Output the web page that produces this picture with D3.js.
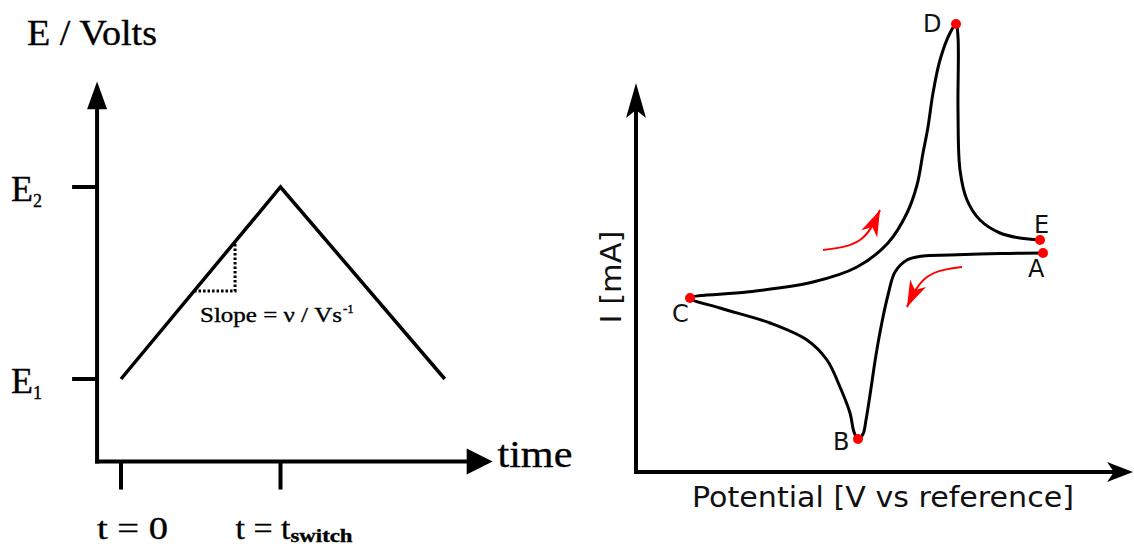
<!DOCTYPE html>
<html lang="en">
<head>
<meta charset="UTF-8">
<title>Cyclic voltammetry</title>
<script src="https://d3js.org/d3.v7.min.js"></script>
<style>
  body { margin: 0; background: #fff; }
  .serif { font-family: "Liberation Serif", "Times New Roman", serif; fill: #000; stroke: #000; stroke-width: 0.35; }
  .sans { font-family: "DejaVu Sans", Verdana, sans-serif; fill: #111; }
</style>
</head>
<body>
<script>
// left panel: triangular potential waveform (E1 = 0, E2 = 1, t_switch = 1)
const waveTime = [0, 1, 2.03];
const waveE = [0, 1, 0];
const slopeTime = [0.458, 0.715];
const eTicks = [0, 1];
const eTickSubs = ["1", "2"];
const tTicks = [0, 1];

// right panel: voltammogram, arbitrary units, traced A -> B -> C -> D -> E
const cvPotential = [81.4, 72.8, 62.8, 57.4, 54.2, 51.8, 50.4, 49.2, 48, 46.8, 46, 45.4, 44.4,
  43.6, 42.8, 40.8, 38.2, 34.2, 26.8, 16.8, 10.8,
  22.2, 35.4, 44.2, 50.4, 54.2, 56.2, 57.4, 58.4, 59.4, 60.8, 62.8, 64,
  64.4, 64.4, 64.8, 66.2, 68.8, 72.8, 76.8, 80.8];
const cvCurrent = [43.8, 43.7, 43.4, 43.2, 42.4, 40, 35.4, 30, 23.4, 15.4, 10.4, 7.6, 6.6,
  8, 11.8, 17, 22.4, 26.4, 29.8, 32.8, 34.8,
  36, 38, 41, 45.8, 51.8, 57.4, 63.8, 69, 75.8, 82.4, 87.8, 89.6,
  87, 72.4, 60.4, 54.4, 50.4, 47.8, 46.8, 46.4];

const pointNames = ["A", "B", "C", "D", "E"];
const pointPotential = [81.4, 44.4, 10.8, 64, 80.8];
const pointCurrent = [43.8, 6.6, 34.8, 89.6, 46.4];

// red sweep direction arrows
const forwardArrowPotential = [37.4, 44.8, 48.8];
const forwardArrowCurrent = [44.4, 46.4, 52.4];
const reverseArrowPotential = [65.2, 58.2, 54.2];
const reverseArrowCurrent = [41, 39, 33];

const width = 1134, height = 547;

const svg = d3.select("body").append("svg")
  .attr("width", width)
  .attr("height", height);

const defs = svg.append("defs");
defs.append("marker")
  .attr("id", "redhead")
  .attr("markerUnits", "userSpaceOnUse")
  .attr("markerWidth", 30).attr("markerHeight", 30)
  .attr("viewBox", "-22 -10 24 20")
  .attr("refX", 0).attr("refY", 0)
  .attr("orient", "auto")
  .append("path")
  .attr("d", "M0,0 L-21,-7 L-15,0 L-21,7 Z")
  .attr("fill", "red");

// ---------- left panel ----------
const tScale = d3.scaleLinear().domain([0, 1]).range([121, 280.5]);
const eScale = d3.scaleLinear().domain([0, 1]).range([379, 187]);

const left = svg.append("g");
const x0 = tScale(-0.15), y0 = eScale(-0.43);

left.append("path")
  .attr("d", `M${x0},${y0 + 2}V${eScale(1.42)}`)
  .attr("stroke", "#000").attr("stroke-width", 4).attr("fill", "none");
left.append("path")
  .attr("d", `M${x0 - 10},${eScale(1.42) + 3}L${x0},${eScale(1.55)}L${x0 + 10},${eScale(1.42) + 3}Z`)
  .attr("fill", "#000");
left.append("path")
  .attr("d", `M${x0 - 2},${y0}H${tScale(2.18)}`)
  .attr("stroke", "#000").attr("stroke-width", 4).attr("fill", "none");
left.append("path")
  .attr("d", `M${tScale(2.18) - 2},${y0 - 13}L${tScale(2.33)},${y0}L${tScale(2.18) - 2},${y0 + 13}Z`)
  .attr("fill", "#000");

left.selectAll(".etick").data(eTicks).join("line")
  .attr("x1", x0 - 25).attr("x2", x0)
  .attr("y1", d => eScale(d)).attr("y2", d => eScale(d))
  .attr("stroke", "#000").attr("stroke-width", 4);

left.selectAll(".ttick").data(tTicks).join("line")
  .attr("x1", d => tScale(d)).attr("x2", d => tScale(d))
  .attr("y1", y0).attr("y2", y0 + 28)
  .attr("stroke", "#000").attr("stroke-width", 4);

const wave = d3.line().x((d, i) => tScale(waveTime[i])).y(d => eScale(d));
left.append("path")
  .attr("d", wave(waveE))
  .attr("stroke", "#000").attr("stroke-width", 3.5).attr("fill", "none");

const [s0, s1] = slopeTime;
left.append("path")
  .attr("d", `M${tScale(s0)},${eScale(s0)}H${tScale(s1)}V${eScale(s1)}`)
  .attr("stroke", "#000").attr("stroke-width", 3).attr("stroke-dasharray", "2.5,2")
  .attr("fill", "none");

left.append("text").attr("class", "serif")
  .attr("x", 27).attr("y", 45).attr("font-size", 36)
  .attr("textLength", 130).attr("lengthAdjust", "spacingAndGlyphs")
  .text("E / Volts");

left.selectAll(".elab").data(eTicks).join("text")
  .attr("class", "serif")
  .attr("x", 11).attr("y", d => eScale(d) + 14)
  .attr("font-size", 36)
  .text("E");
left.selectAll(".esub").data(eTicks).join("text")
  .attr("class", "serif")
  .attr("x", 33).attr("y", d => eScale(d) + 20)
  .attr("font-size", 18)
  .text((d, i) => eTickSubs[i]);

left.append("text").attr("class", "serif")
  .attr("x", tScale(0) - 24).attr("y", 539).attr("font-size", 31)
  .attr("textLength", 71).attr("lengthAdjust", "spacingAndGlyphs")
  .text("t = 0");
left.append("text").attr("class", "serif")
  .attr("x", tScale(1) - 45).attr("y", 539).attr("font-size", 31)
  .attr("textLength", 55).attr("lengthAdjust", "spacingAndGlyphs")
  .text("t = t");
left.append("text").attr("class", "serif")
  .attr("x", tScale(1) + 10).attr("y", 542).attr("font-size", 18).attr("font-weight", "bold")
  .attr("textLength", 62).attr("lengthAdjust", "spacingAndGlyphs")
  .text("switch");

left.append("text").attr("class", "serif")
  .attr("x", tScale(2.36)).attr("y", y0 + 5).attr("font-size", 38)
  .attr("textLength", 75).attr("lengthAdjust", "spacingAndGlyphs")
  .text("time");

left.append("text").attr("class", "serif")
  .attr("x", 200).attr("y", 322).attr("font-size", 21)
  .attr("textLength", 142).attr("lengthAdjust", "spacingAndGlyphs")
  .text("Slope = ν / Vs");
left.append("text").attr("class", "serif")
  .attr("x", 343).attr("y", 313).attr("font-size", 13)
  .text("-1");

// ---------- right panel ----------
const xCV = d3.scaleLinear().domain([0, 100]).range([636, 1136]);
const yCV = d3.scaleLinear().domain([0, 100]).range([472, -28]);

const right = svg.append("g");
const ox = xCV(0), oy = yCV(0);

right.append("path")
  .attr("d", `M${ox},${oy + 2}V${yCV(74)}`)
  .attr("stroke", "#000").attr("stroke-width", 4).attr("fill", "none");
right.append("path")
  .attr("d", `M${ox},${yCV(77.8)}L${ox + 10},${yCV(70.8)}L${ox},${yCV(72.4)}L${ox - 10},${yCV(70.8)}Z`)
  .attr("fill", "#000");
right.append("path")
  .attr("d", `M${ox - 2},${oy}H${xCV(97)}`)
  .attr("stroke", "#000").attr("stroke-width", 4).attr("fill", "none");
right.append("path")
  .attr("d", `M${xCV(99.4)},${oy}L${xCV(94.2)},${oy - 10}L${xCV(95.6)},${oy}L${xCV(94.2)},${oy + 10}Z`)
  .attr("fill", "#000");

const cvLine = d3.line()
  .x((d, i) => xCV(cvPotential[i]))
  .y(d => yCV(d))
  .curve(d3.curveCatmullRom.alpha(0.5));
right.append("path")
  .attr("d", cvLine(cvCurrent))
  .attr("stroke", "#000").attr("stroke-width", 3).attr("fill", "none");

const arrowLine = d3.line().curve(d3.curveNatural);
[[forwardArrowPotential, forwardArrowCurrent], [reverseArrowPotential, reverseArrowCurrent]]
  .forEach(([px, py]) => {
    right.append("path")
      .attr("d", arrowLine(px.map((p, i) => [xCV(p), yCV(py[i])])))
      .attr("stroke", "red").attr("stroke-width", 2).attr("fill", "none")
      .attr("marker-end", "url(#redhead)");
  });

right.selectAll(".pt").data(pointNames).join("circle")
  .attr("cx", (d, i) => xCV(pointPotential[i]))
  .attr("cy", (d, i) => yCV(pointCurrent[i]))
  .attr("r", 5)
  .attr("fill", "red");

const labelOffsets = { A: [-15, 24], B: [-25, 11], C: [-18, 24], D: [-33, 8], E: [-6, -7] };
right.selectAll(".ptlab").data(pointNames).join("text")
  .attr("class", "sans")
  .attr("x", (d, i) => xCV(pointPotential[i]) + labelOffsets[d][0])
  .attr("y", (d, i) => yCV(pointCurrent[i]) + labelOffsets[d][1])
  .attr("font-size", 24)
  .text(d => d);

right.append("text").attr("class", "sans")
  .attr("x", 883).attr("y", 507).attr("font-size", 29)
  .attr("text-anchor", "middle")
  .attr("textLength", 382).attr("lengthAdjust", "spacingAndGlyphs")
  .text("Potential [V vs reference]");

right.append("text").attr("class", "sans")
  .attr("transform", "translate(621,277) rotate(-90)")
  .attr("font-size", 29)
  .attr("text-anchor", "middle")
  .attr("textLength", 93).attr("lengthAdjust", "spacingAndGlyphs")
  .text("I [mA]");
</script>
</body>
</html>
